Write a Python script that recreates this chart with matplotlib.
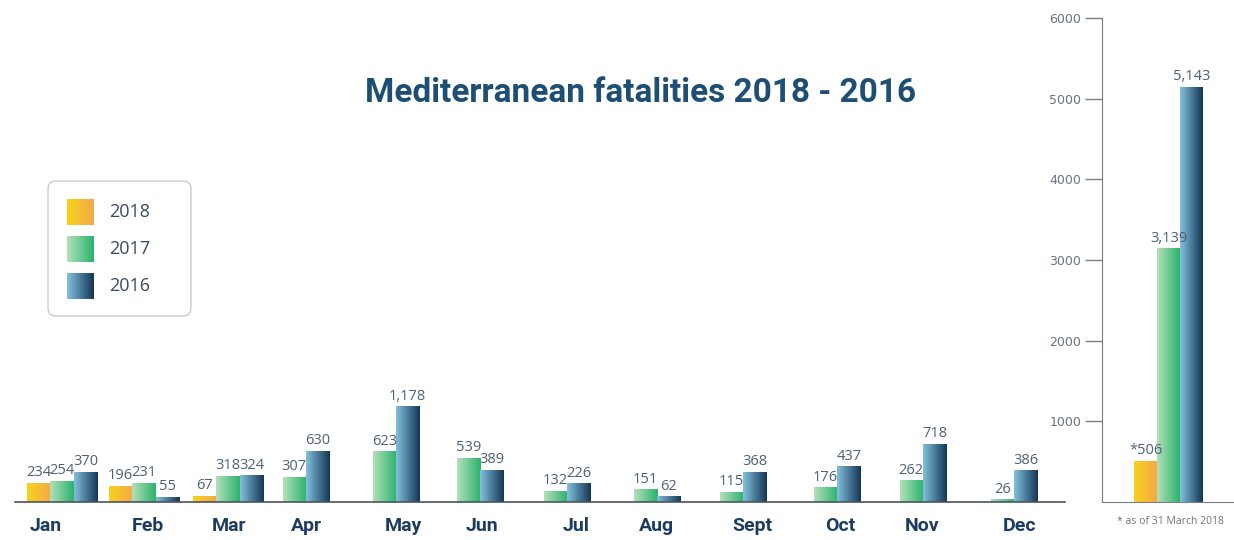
import numpy as np
import matplotlib
matplotlib.use("Agg")
import matplotlib.pyplot as plt
from matplotlib.colors import LinearSegmentedColormap
from matplotlib.patches import FancyBboxPatch

# data
months = ['Jan', 'Feb', 'Mar', 'Apr', 'May', 'Jun', 'Jul', 'Aug', 'Sept', 'Oct', 'Nov', 'Dec']
years = ['2018', '2017', '2016']
v2018 = [234, 196, 67, None, None, None, None, None, None, None, None, None]
v2017 = [254, 231, 318, 307, 623, 539, 132, 151, 115, 176, 262, 26]
v2016 = [370, 55, 324, 630, 1178, 389, 226, 62, 368, 437, 718, 386]
totals = [506, 3139, 5143]
total_labels = ['*506', '3,139', '5,143']

# layout: group / label centres (pixels) as laid out in the original graphic
group_x = [62, 144, 228, 306, 396, 480, 567, 657, 743, 837, 923, 1014]
label_x = [46, 148, 229, 306, 403, 482, 576, 656, 752, 840, 922, 1020]

grads = {
    '2018': ['#f9d21a', '#f2a94a'],
    '2017': ['#b2e0b8', '#2bb36d'],
    '2016': ['#82c0de', '#143656'],
}
cmaps = {k: LinearSegmentedColormap.from_list(k, v) for k, v in grads.items()}

title_col = '#1d4f75'
lab_col = '#4f6070'
month_col = '#1c3d60'
axis_col = '#7a7f86'

fig = plt.figure(figsize=(12.34, 5.4), dpi=100)
W, H = 1234, 540


def px_axes(x0, x1, ytop, ybot):
    return fig.add_axes([x0 / W, 1 - ybot / H, (x1 - x0) / W, (ybot - ytop) / H])


def grad_bar(ax, x, w, h, cmap):
    g = np.linspace(0, 1, 64).reshape(1, -1)
    ax.imshow(g, cmap=cmap, extent=[x - w / 2, x + w / 2, 0, h],
              aspect='auto', origin='lower', zorder=2, interpolation='bilinear')


ymax = 6000
ytop, ybot = 18, 502

# monthly panel
ax = px_axes(15, 1065, ytop, ybot)
bw = 23.5
for i, m in enumerate(months):
    vals = [(y, v) for y, v in zip(years, [v2018[i], v2017[i], v2016[i]]) if v is not None]
    n = len(vals)
    for j, (y, v) in enumerate(vals):
        x = group_x[i] + (j - (n - 1) / 2) * bw
        grad_bar(ax, x, bw, v, cmaps[y])
        ax.text(x, v + 40, f'{v:,}', ha='center', va='bottom', fontsize=10.5,
                color=lab_col, family='Open Sans')
    ax.text(label_x[i], -190, m, ha='center', va='top', fontsize=14, fontweight='bold',
            color=month_col, family='Roboto')
ax.set_xlim(15, 1065)
ax.set_ylim(0, ymax)
for s in ['top', 'right', 'left']:
    ax.spines[s].set_visible(False)
ax.spines['bottom'].set_color('#4a5560')
ax.spines['bottom'].set_linewidth(1.2)
ax.set_xticks([])
ax.set_yticks([])
ax.patch.set_alpha(0)

# totals panel
ax2 = px_axes(1102, 1234, ytop, ybot)
tw = 1.0
for k, (y, v, lab) in enumerate(zip(years, totals, total_labels)):
    grad_bar(ax2, k, tw, v, cmaps[y])
    ax2.text(k, v + 40, lab, ha='center', va='bottom', fontsize=10.5,
             color=lab_col, family='Open Sans')
ax2.set_xlim(-1.91, 3.83)
ax2.set_ylim(0, ymax)
ax2.spines['top'].set_visible(False)
ax2.spines['right'].set_visible(False)
ax2.spines['left'].set_color(axis_col)
ax2.spines['bottom'].set_color(axis_col)
ax2.set_xticks([])
ax2.set_yticks(range(1000, 7000, 1000))
ax2.tick_params(axis='y', direction='out', length=12, width=1, color=axis_col,
                labelsize=9, labelcolor='#6a737c', pad=3)
ax2.patch.set_alpha(0)

fig.text(1170 / W, 1 - 522 / H, '* as of 31 March 2018', ha='center', va='center',
         fontsize=7.5, color='#6a737c', family='Open Sans')

# title
fig.text(641 / W, 1 - 93 / H, 'Mediterranean fatalities 2018 - 2016', ha='center',
         va='center', fontsize=24, fontweight='bold', color=title_col, family='Roboto')

# legend
lax = px_axes(47, 192, 180, 317)
lax.axis('off')
lax.add_patch(FancyBboxPatch((1, 1), 143, 135, boxstyle='round,pad=0,rounding_size=8',
                             fc='white', ec='#c8cbd0', lw=1))
for k, y in enumerate(years):
    yc = 32 + k * 37
    g = np.linspace(0, 1, 32).reshape(1, -1)
    lax.imshow(g, cmap=cmaps[y], extent=[20, 47, yc + 13, yc - 13], aspect='auto',
               zorder=3)
    lax.text(62, yc, y, ha='left', va='center', fontsize=13, color='#3a4a5c',
             family='Open Sans')
lax.set_xlim(0, 145)
lax.set_ylim(137, 0)

fig.savefig('out.png', dpi=100)
